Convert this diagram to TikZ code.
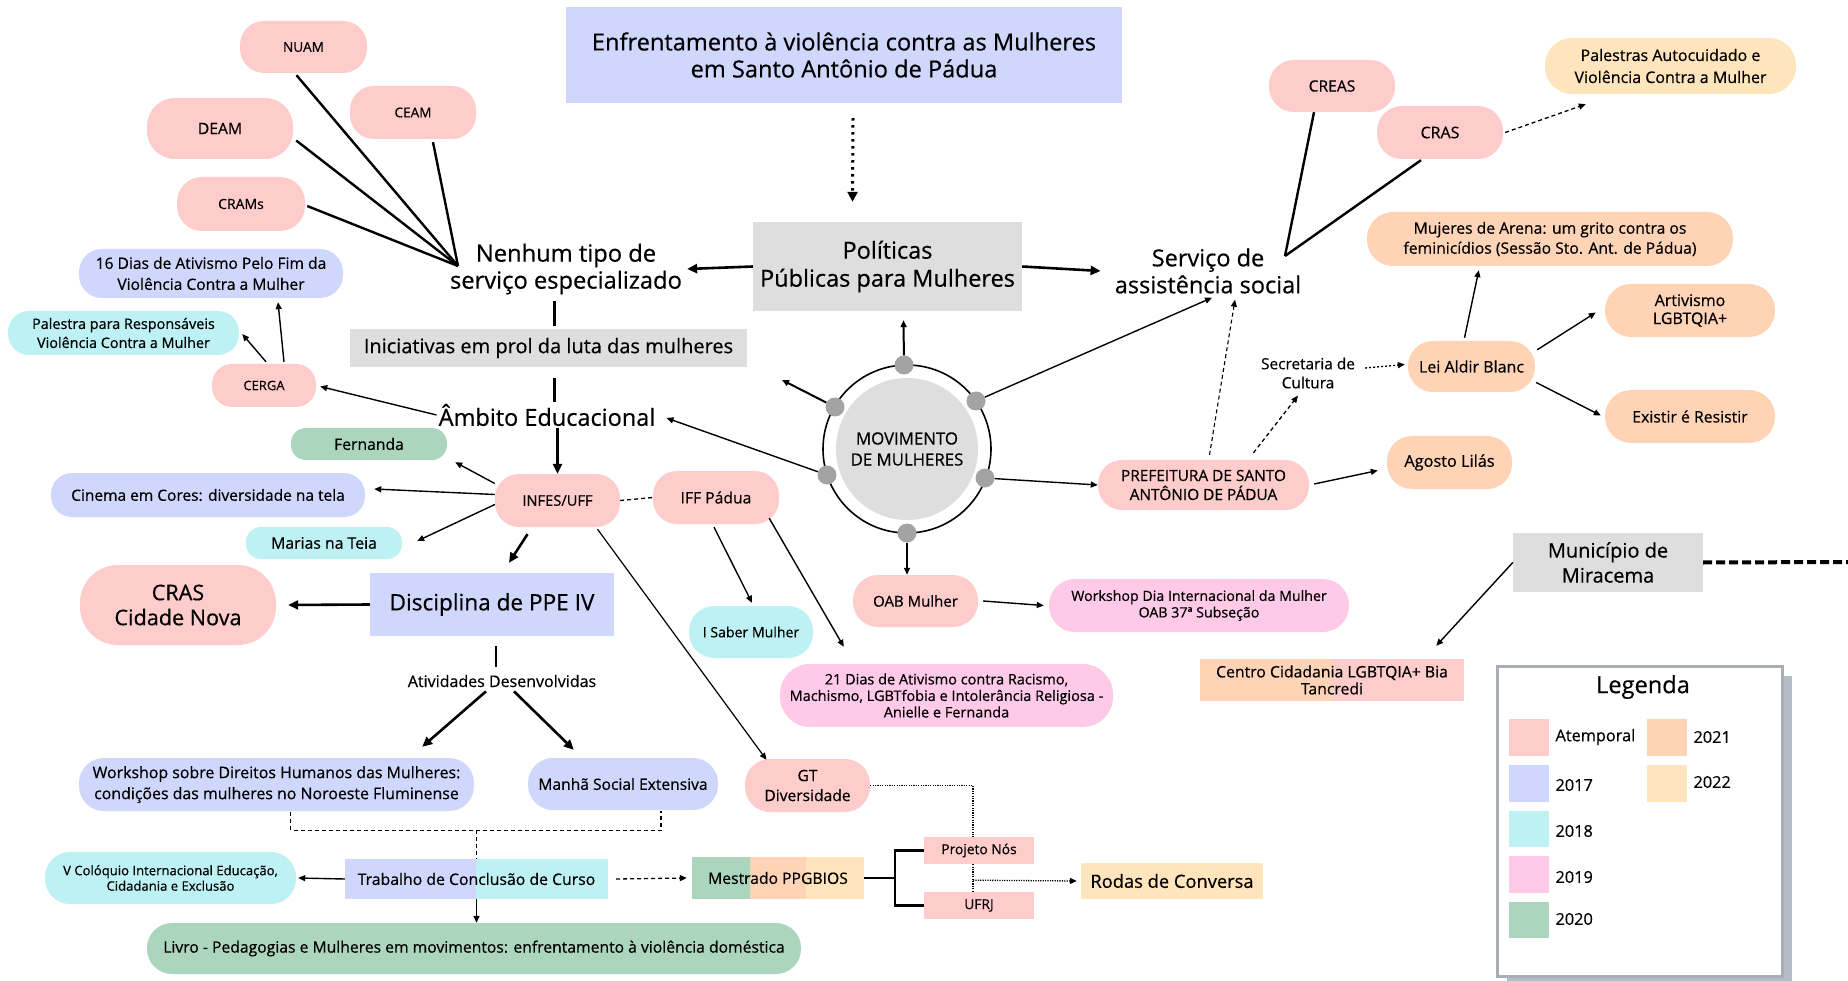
\documentclass[tikz,border=0pt]{standalone}
\usepackage{fontspec}
\setmainfont{Open Sans}[FakeBold=0.5]
\usetikzlibrary{arrows.meta,calc}
\definecolor{cPink}{HTML}{FFCCCC}
\definecolor{cLav}{HTML}{CFD7FD}
\definecolor{cCyan}{HTML}{BDF1F3}
\definecolor{cMag}{HTML}{FFC9E8}
\definecolor{cGrn}{HTML}{ABD5BC}
\definecolor{cPeach}{HTML}{FFD4B6}
\definecolor{cYel}{HTML}{FFE4BC}
\definecolor{cGray}{HTML}{DEDEDE}
\definecolor{cDot}{HTML}{A3A3A3}
\definecolor{cShadow}{HTML}{B4BCC6}
\definecolor{cBorder}{HTML}{A9AFB6}
\newcommand\fs[2]{\fontsize{#1}{#2}\selectfont}
\newcommand\bxn[9]{%
  \node[fill=#6, rounded corners=#7, minimum width={#4-#2}, minimum height={#5-#3}, inner sep=0pt, align=center, font=#9] (#1) at ({(#2+#4)/2},{(#3+#5)/2}) {#8};}
\tikzset{
  arr/.style={-{Triangle[length=7pt,width=6pt]}, line width=1.4pt},
  tarr/.style={-{Triangle[length=10pt,width=9pt]}, line width=2.6pt},
  ln/.style={line width=2.4pt},
  dsh/.style={dash pattern=on 4pt off 3pt, line width=1.3pt},
  dtt/.style={dash pattern=on 1.2pt off 1.2pt, line width=1.3pt},
  lbl/.style={inner sep=2pt, align=center},
  dot/.style={circle, fill=cDot, minimum size=19pt, inner sep=0pt}
}
\begin{document}
\begin{tikzpicture}[x=1pt,y=-1pt]
\useasboundingbox (0,0) rectangle (1848,981);
\fill[white] (0,0) rectangle (1848,981);

% ---------- top ----------
\bxn{title}{566}{7}{1122}{103}{cLav}{0pt}{Enfrentamento à violência contra as Mulheres\\em Santo Antônio de Pádua}{\fs{23.6}{27}}
\bxn{pol}{753}{222}{1022}{311}{cGray}{0pt}{Políticas\\Públicas para Mulheres}{\fs{23.5}{28}}

% ---------- left upper ----------
\bxn{nuam}{240}{21}{367}{73}{cPink}{24pt}{NUAM}{\fs{13.6}{17}}
\bxn{ceam}{350}{86}{476}{139}{cPink}{24pt}{CEAM}{\fs{13.6}{17}}
\bxn{deam}{147}{98}{293}{159}{cPink}{28pt}{DEAM}{\fs{15.7}{20}}
\bxn{crams}{177}{177}{305}{231}{cPink}{25pt}{CRAMs}{\fs{14}{17}}
\bxn{dias16}{79}{249}{343}{298}{cLav}{23pt}{16 Dias de Ativismo Pelo Fim da\\Violência Contra a Mulher}{\fs{15.6}{21}}
\bxn{palestra}{8}{311}{239}{355}{cCyan}{21pt}{Palestra para Responsáveis\\Violência Contra a Mulher}{\fs{14.4}{19}}
\bxn{cerga}{212}{364}{316}{407}{cPink}{20pt}{CERGA}{\fs{13}{16}}
\bxn{inic}{350}{329}{747}{367}{cGray}{0pt}{Iniciativas em prol da luta das mulheres}{\fs{20}{23}}
\node[lbl, font=\fs{23.7}{27}] (nenhum) at (566,269) {Nenhum tipo de\\serviço especializado};
\node[lbl, font=\fs{23.5}{27}] (ambito) at (547,415) {Âmbito Educacional};

% ---------- left middle ----------
\bxn{fernanda}{291}{428}{447}{460}{cGrn}{15pt}{Fernanda}{\fs{15.7}{18}}
\bxn{cinema}{51}{473}{365}{517}{cLav}{21pt}{Cinema em Cores: diversidade na tela}{\fs{15.5}{18}}
\bxn{marias}{246}{527}{402}{559}{cCyan}{15pt}{Marias na Teia}{\fs{15.8}{18}}
\bxn{infes}{495}{474}{620}{527}{cPink}{24pt}{INFES/UFF}{\fs{14.7}{18}}
\bxn{iff}{653}{471}{779}{524}{cPink}{24pt}{IFF Pádua}{\fs{15.7}{18}}
\bxn{disc}{370}{573}{614}{636}{cLav}{0pt}{Disciplina de PPE IV}{\fs{22.6}{27}}
\bxn{crasn}{80}{565}{276}{645}{cPink}{38pt}{CRAS\\Cidade Nova}{\fs{21.6}{25}}
\node[lbl, font=\fs{16}{17}] (ativ) at (502,681) {Atividades Desenvolvidas};
\bxn{wsdh}{79}{758}{474}{811}{cLav}{25pt}{Workshop sobre Direitos Humanos das Mulheres:\\condições das mulheres no Noroeste Fluminense}{\fs{15.9}{21}}
\bxn{manha}{528}{758}{718}{810}{cLav}{25pt}{Manhã Social Extensiva}{\fs{15.6}{19}}
\fill[cLav] (345,859) rectangle (476,899);
\fill[cCyan] (476,859) rectangle (608,899);
\node[minimum width=263pt, minimum height=40pt, inner sep=0pt, font=\fs{15.8}{19}] (tcc) at (476.5,879) {Trabalho de Conclusão de Curso};
\bxn{vcol}{45}{852}{296}{904}{cCyan}{25pt}{V Colóquio Internacional Educação,\\Cidadania e Exclusão}{\fs{13.1}{15.5}}
\bxn{livro}{147}{923}{801}{974}{cGrn}{25pt}{Livro - Pedagogias e Mulheres em movimentos: enfrentamento à violência doméstica}{\fs{15.7}{19}}
\fill[cGrn] (692,857) rectangle (750,899);
\fill[cPeach] (750,857) rectangle (806,899);
\fill[cYel] (806,857) rectangle (864,899);
\node[minimum width=172pt, minimum height=42pt, inner sep=0pt, font=\fs{15.7}{19}] (mestrado) at (778,878) {Mestrado PPGBIOS};
\bxn{gt}{745}{759}{870}{812}{cPink}{25pt}{GT\\Diversidade}{\fs{15.6}{20}}
\bxn{projnos}{924}{837}{1034}{864}{cPink}{0pt}{Projeto Nós}{\fs{13.8}{17}}
\bxn{ufrj}{924}{892}{1034}{919}{cPink}{0pt}{UFRJ}{\fs{13.8}{17}}
\bxn{rodas}{1081}{863}{1263}{899}{cYel}{0pt}{Rodas de Conversa}{\fs{18.3}{21}}
\bxn{isaber}{689}{606}{813}{658}{cCyan}{25pt}{I Saber Mulher}{\fs{14.1}{17}}
\bxn{dias21}{780}{664}{1113}{727}{cMag}{30pt}{21 Dias de Ativismo contra Racismo,\\Machismo, LGBTfobia e Intolerância Religiosa -\\Anielle e Fernanda}{\fs{14.5}{16.5}}

% ---------- center ----------
\draw[line width=1.6pt] (907,449) circle[radius=84pt];
\node[circle, fill=cGray, minimum size=142pt, inner sep=0pt, align=center, font=\fs{16.8}{21}] (mov) at (907,449) {MOVIMENTO\\DE MULHERES};
\node[dot] (dtop) at (904,365) {};
\node[dot] (dul) at (835,407) {};
\node[dot] (dur) at (976,401) {};
\node[dot] (dll) at (827,475) {};
\node[dot] (dlr) at (985,478) {};
\node[dot] (dbot) at (907,533) {};
\bxn{oab}{853}{575}{978}{627}{cPink}{25pt}{OAB Mulher}{\fs{15}{18}}
\bxn{wsdia}{1049}{579}{1349}{632}{cMag}{26pt}{Workshop Dia Internacional da Mulher\\OAB 37ª Subseção}{\fs{14.2}{16.5}}

% ---------- right ----------
\bxn{creas}{1269}{60}{1395}{112}{cPink}{25pt}{CREAS}{\fs{15.6}{18}}
\bxn{cras}{1377}{106}{1503}{159}{cPink}{25pt}{CRAS}{\fs{16}{18}}
\bxn{palestras}{1545}{38}{1796}{94}{cYel}{27pt}{Palestras Autocuidado e\\Violência Contra a Mulher}{\fs{16}{22}}
\node[lbl, font=\fs{23.5}{27}] (servico) at (1208,271) {Serviço de\\assistência social};
\bxn{mujeres}{1367}{212}{1733}{266}{cPeach}{26pt}{Mujeres de Arena: um grito contra os\\feminicídios (Sessão Sto. Ant. de Pádua)}{\fs{15.7}{20}}
\bxn{lei}{1408}{341}{1535}{392}{cPeach}{25pt}{Lei Aldir Blanc}{\fs{16}{18}}
\bxn{artivismo}{1605}{284}{1775}{337}{cPeach}{26pt}{Artivismo\\LGBTQIA+}{\fs{16}{18}}
\bxn{existir}{1605}{390}{1775}{443}{cPeach}{26pt}{Existir é Resistir}{\fs{15.8}{18}}
\bxn{agosto}{1387}{436}{1512}{489}{cPeach}{25pt}{Agosto Lilás}{\fs{16.3}{19}}
\node[lbl, font=\fs{15.4}{19}] (secretaria) at (1308,373) {Secretaria de\\Cultura};
\bxn{prefeitura}{1098}{460}{1309}{510}{cPink}{24pt}{PREFEITURA DE SANTO\\ANTÔNIO DE PÁDUA}{\fs{15.4}{19}}
\bxn{municipio}{1513}{533}{1703}{592}{cGray}{0pt}{Município de\\Miracema}{\fs{20}{25}}
\fill[cPeach] (1200,659) rectangle (1332,701);
\fill[cPink] (1332,659) rectangle (1464,701);
\node[minimum width=264pt, minimum height=42pt, inner sep=0pt, align=center, font=\fs{15.8}{17}] (centro) at (1332,680) {Centro Cidadania LGBTQIA+ Bia\\Tancredi};
\coordinate (edge) at (1848,562);

% ---------- legend ----------
\fill[cShadow] (1507,676) rectangle (1792,981);
\draw[cBorder, line width=3pt, fill=white] (1497,666) rectangle (1782,976);
\node[font=\fs{23.6}{26}] (legtitle) at (1643,687) {Legenda};
\fill[cPink] (1509,719) rectangle (1549,756);
\fill[cLav] (1509,765) rectangle (1549,802);
\fill[cCyan] (1509,811) rectangle (1549,847);
\fill[cMag] (1509,856) rectangle (1549,893);
\fill[cGrn] (1509,902) rectangle (1549,938);
\fill[cPeach] (1647,719) rectangle (1687,756);
\fill[cYel] (1647,765) rectangle (1687,802);
\node[anchor=west, font=\fs{16.3}{19}] (l1) at (1552,737) {Atemporal};
\node[anchor=west, font=\fs{16.3}{19}] (l2) at (1552,785) {2017};
\node[anchor=west, font=\fs{16.3}{19}] (l3) at (1552,831) {2018};
\node[anchor=west, font=\fs{16.3}{19}] (l4) at (1552,877) {2019};
\node[anchor=west, font=\fs{16.3}{19}] (l5) at (1552,919) {2020};
\node[anchor=west, font=\fs{16.3}{19}] (l6) at (1690,737) {2021};
\node[anchor=west, font=\fs{16.3}{19}] (l7) at (1690,782) {2022};

% ---------- connectors ----------
\draw[-{Triangle[length=10pt,width=10pt]}, line width=3pt, dash pattern=on 2.5pt off 4.5pt] ($(title.south)+(9,15)$) -- ($(pol.north)+(-35,-20)$);
\draw[tarr] (pol.west) -- ($(nenhum.east)+(3,0)$);
\draw[tarr] (pol.east) -- ($(servico.west)+(-12,0)$);

\coordinate (hub1) at (458,266);
\draw[ln] ($(nuam.south)+(-7,2)$) -- (hub1);
\draw[ln] ($(ceam.south)+(20,3)$) -- (hub1);
\draw[ln] ($(deam.east)+(3,12)$) -- (hub1);
\draw[ln] ($(crams.east)+(2,2)$) -- (hub1);
\draw[ln] ($(inic.north)+(6,-3)$) -- ($(inic.north)+(6,-28)$);
\draw[ln] ($(inic.south)+(6,11)$) -- ($(inic.south)+(6,35)$);
\draw[arr] (ambito.west) -- ($(cerga.east)+(4,1)$);
\draw[arr] ($(cerga.north)+(20,-2)$) -- ($(dias16.south)+(67,4)$);
\draw[arr] ($(cerga.north)+(2,-2)$) -- ($(palestra.east)+(3,1)$);
\draw[tarr] (ambito.south -| infes.north) -- (infes.north);
\draw[arr] ($(infes.west)+(0,-17)$) -- ($(fernanda.south east)+(8,2)$);
\draw[arr] ($(infes.west)+(0,-6)$) -- ($(cinema.east)+(9,-6)$);
\draw[arr] ($(infes.west)+(0,4)$) -- ($(marias.east)+(15,-2)$);
\draw[tarr] ($(infes.south)+(-30,7)$) -- ($(disc.north)+(17,-10)$);
\draw[dsh] (infes.east) -- (iff.west);
\draw[arr, line width=1.2pt] ($(infes.south)+(40,2)$) -- ($(gt.north)+(-41,1)$);
\draw[arr] ($(iff.south)+(-2,3)$) -- ($(isaber.north)+(1,-3)$);
\draw[arr] ($(iff.south east)+(-10,-6)$) -- ($(dias21.north west)+(64,-17)$);
\draw[tarr] (disc.west) -- ($(crasn.east)+(12,0)$);
\draw[ln] ($(disc.south)+(4,10)$) -- ($(disc.south)+(4,31)$);
\draw[tarr] ($(ativ.south)+(-16,2)$) -- ($(wsdh.north east)+(-52,-11)$);
\draw[tarr] ($(ativ.south)+(12,2)$) -- ($(manha.north west)+(46,-8)$);
\draw[dsh] ($(wsdh.south)+(14,1)$) -- ($(wsdh.south)+(14,19)$) -| ($(manha.south)+(38,1)$);
\draw[dsh] ($(tcc.north)+(0,-29)$) -- (tcc.north);
\draw[arr] (tcc.west) -- ($(vcol.east)+(2,0)$);
\draw[arr] (tcc.south) -- (tcc.south |- livro.north);
\draw[dsh, -{Triangle[length=7pt,width=6pt]}] ($(tcc.east)+(8,0)$) -- ($(mestrado.west)+(-5,0)$);
\draw[ln] (mestrado.east) -- ++(31,0);
\draw[ln] (projnos.west) -- ++(-29,0) |- (ufrj.west);
\draw[dtt] (gt.east) -| ($(projnos.north)+(-6,0)$);
\draw[dtt] ($(projnos.south)+(-6,0)$) -- ($(ufrj.north)+(-6,0)$);
\draw[dtt, -{Triangle[length=7pt,width=6pt]}] ($(projnos.south)+(-6,16)$) -- ($(rodas.west)+(-4,0)$);

\coordinate (ul) at (782,380);
\draw[arr, line width=2pt] (dtop) -- ($(pol.south)+(16,9)$);
\draw[arr, line width=2pt] (dul) -- (ul);
\draw[arr] (dll) -- ($(ambito.east)+(9,3)$);
\draw[arr] (dur) -- ($(servico.south)+(4,2)$);
\draw[arr] (dlr) -- (prefeitura.west);
\draw[arr] (dbot) -- (dbot |- oab.north);
\draw[arr] ($(oab.east)+(5,0)$) -- ($(wsdia.west)+(-5,0)$);

\coordinate (hub2) at (1285,256);
\draw[ln] ($(creas.south)+(-18,0)$) -- (hub2);
\draw[ln] ($(cras.south)+(-19,1)$) -- (hub2);
\draw[dsh, -{Triangle[length=7pt,width=6pt]}] ($(cras.east)+(2,0)$) -- ($(palestras.south west)+(41,10)$);
\draw[dsh, line width=1.1pt, -{Triangle[length=7pt,width=6pt]}] ($(prefeitura.north)+(6,-5)$) -- ($(servico.south)+(27,4)$);
\draw[dsh, -{Triangle[length=7pt,width=6pt]}] ($(prefeitura.north)+(50,-7)$) -- ($(secretaria.south)+(-10,5)$);
\draw[dsh, dash pattern=on 2pt off 2pt, -{Triangle[length=7pt,width=6pt]}] ($(secretaria.east)+(8,-5)$) -- ($(lei.west)+(-3,-2)$);
\draw[arr] ($(prefeitura.east)+(5,-1)$) -- ($(agosto.west)+(-9,8)$);
\draw[arr] ($(lei.north)+(-7,-3)$) -- ($(mujeres.south west)+(112,4)$);
\draw[arr] ($(lei.north east)+(2,9)$) -- ($(artivismo.west)+(-9,2)$);
\draw[arr] ($(lei.east)+(1,16)$) -- ($(existir.west)+(-4,-1)$);
\draw[arr] (municipio.west) -- ($(centro.north east)+(-28,-13)$);
\draw[line width=4pt, dash pattern=on 9pt off 4pt] (municipio.east) -- (edge);
\end{tikzpicture}
\end{document}
